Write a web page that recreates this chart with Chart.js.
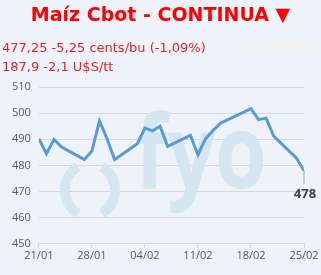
<!DOCTYPE html>
<html>
<head>
<meta charset="utf-8">
<script src="https://cdn.jsdelivr.net/npm/chart.js@4/dist/chart.umd.min.js"></script>
<style>
  html, body { margin: 0; padding: 0; background: #eef2fa; }
  body { width: 321px; height: 275px; position: relative; overflow: hidden; font-family: "DejaVu Sans", sans-serif; }
  #titulo { position: absolute; left: 0; width: 321px; top: 3px; text-align: center; color: #ff0000; font-weight: bold; font-size: 19px; }
  .linea { position: absolute; left: 2px; color: #e8241f; font-size: 13px; }
  #nombre { position: absolute; right: 2px; top: 40px; color: #f3f2ee; font-weight: bold; font-size: 13px; }
  #grafico { position: absolute; left: 0; top: 0; }
</style>
</head>
<body>
<canvas id="grafico" width="321" height="275"></canvas>
<div id="titulo">Maíz Cbot - CONTINUA ▼</div>
<div class="linea" style="top:40px">477,25 -5,25 cents/bu (-1,09%)</div>
<div class="linea" style="top:59px">187,9 -2,1 U$S/tt</div>
<div id="nombre">#¿NOMBRE?</div>
<script>
// dias desde el 21/01 (sin fines de semana)
const dias = [0, 1, 2, 3, 6, 7, 8, 9, 10, 13, 14, 15, 16, 17, 20, 21, 22, 23, 24, 28, 29, 30, 31, 34, 35];
const precios = [490.2, 484.5, 489.9, 487, 482.2, 485.5, 497, 490.2, 482.2, 488.3, 494.3, 493.2, 495, 487.3,
  491.5, 484.1, 490.2, 493.4, 496.2, 501.7, 497.5, 498.1, 491.2, 482.8, 478];
const fechas = ["21/01", "28/01", "04/02", "11/02", "18/02", "25/02"];
const ultimoTexto = "478";

const puntos = dias.map((d, i) => ({ x: d, y: precios[i] }));

// marca de agua fyo
const marcaAgua = {
  id: "marcaAgua",
  beforeDatasetsDraw(chart) {
    const ctx = chart.ctx;
    const color = "#d6e6f1";
    ctx.save();
    ctx.strokeStyle = color;
    ctx.lineWidth = 10;
    ctx.beginPath();
    ctx.arc(93, 190, 28, Math.PI * 0.68, Math.PI * 1.32);
    ctx.stroke();
    ctx.beginPath();
    ctx.arc(87, 190, 28, -Math.PI * 0.32, Math.PI * 0.32);
    ctx.stroke();
    ctx.fillStyle = color;
    ctx.font = "bold 102px 'Open Sans'";
    ctx.textBaseline = "alphabetic";
    const ancho = ctx.measureText("fyo").width;
    ctx.translate(135, 188);
    ctx.scale(132 / ancho, 1);
    ctx.fillText("fyo", 0, 0);
    ctx.restore();
  },
};

// etiqueta del ultimo valor
const etiquetaFinal = {
  id: "etiquetaFinal",
  afterDatasetsDraw(chart) {
    const meta = chart.getDatasetMeta(0);
    const p = meta.data[meta.data.length - 1];
    const ctx = chart.ctx;
    ctx.save();
    ctx.strokeStyle = "#a6a6a6";
    ctx.lineWidth = 1;
    ctx.beginPath();
    ctx.moveTo(p.x, p.y);
    ctx.lineTo(p.x, p.y + 13);
    ctx.stroke();
    ctx.fillStyle = "#404040";
    ctx.font = "bold 13px 'Open Sans'";
    ctx.textAlign = "center";
    ctx.textBaseline = "middle";
    ctx.fillText(ultimoTexto, p.x + 1, p.y + 24);
    ctx.restore();
  },
};

new Chart(document.getElementById("grafico"), {
  type: "line",
  data: {
    datasets: [{
      data: puntos,
      borderColor: "#5b9bd5",
      borderWidth: 3,
      pointRadius: 0,
      tension: 0,
      fill: false,
    }],
  },
  options: {
    responsive: false,
    animation: false,
    layout: { padding: { top: 87, left: 4, right: 17, bottom: 12 } },
    plugins: { legend: { display: false }, tooltip: { enabled: false } },
    scales: {
      x: {
        type: "linear",
        min: 0,
        max: 35,
        ticks: {
          stepSize: 7,
          color: "#595959",
          font: { family: "'Open Sans'", size: 11 },
          maxRotation: 0,
          padding: 1,
          callback: (v) => fechas[v / 7],
        },
        grid: { display: true, drawOnChartArea: false, drawTicks: true, tickLength: 4, color: "#d9d9d9" },
        border: { color: "#d9d9d9" },
      },
      y: {
        min: 450,
        max: 510,
        ticks: {
          stepSize: 10,
          color: "#595959",
          font: { family: "'Open Sans'", size: 11 },
          padding: 8,
        },
        grid: { color: "#d9d9d9", drawTicks: false },
        border: { display: false },
      },
    },
  },
  plugins: [marcaAgua, etiquetaFinal],
});
</script>
</body>
</html>
